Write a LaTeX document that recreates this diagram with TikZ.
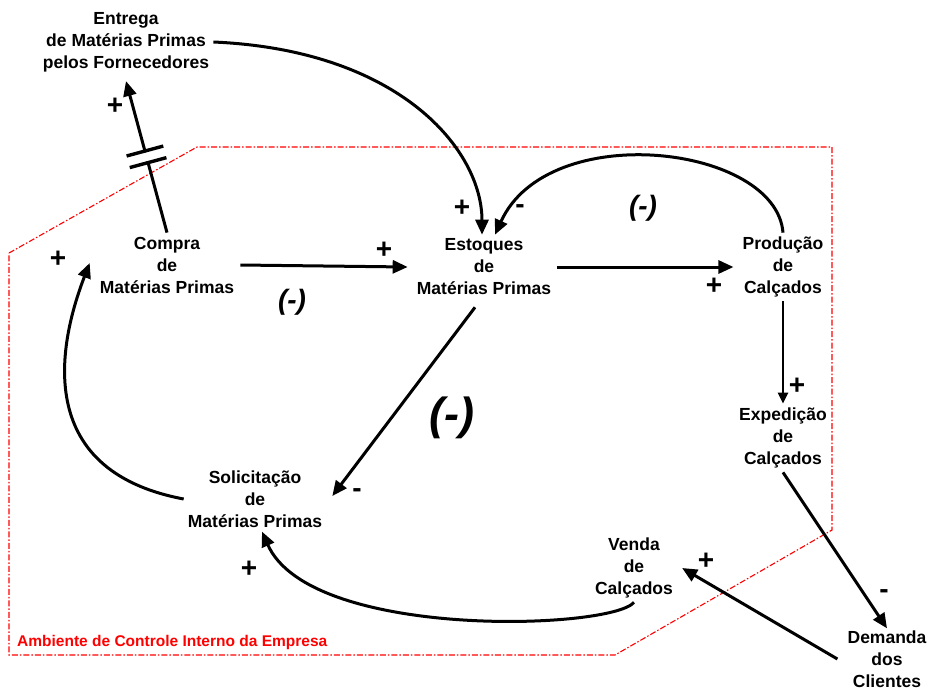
\documentclass[tikz,border=0pt]{standalone}
\usepackage{fontspec}
\setmainfont{Liberation Sans}
\usetikzlibrary{arrows.meta}
\begin{document}
\begin{tikzpicture}[x=1pt,y=-1pt,
  var/.style={font=\bfseries\fontsize{17.5}{22}\selectfont, align=center, inner sep=4pt},
  link/.style={line width=3pt, -{Triangle[length=15pt,width=13pt]}},
  thinlink/.style={line width=2.6pt, -{Triangle[length=11pt,width=10pt]}},
  polarity/.style={font=\bfseries\fontsize{28}{28}\selectfont, inner sep=0pt},
  loopname/.style={font=\bfseries\itshape\fontsize{28}{28}\selectfont, inner sep=0pt},
  bigloopname/.style={font=\bfseries\itshape\fontsize{45}{45}\selectfont, inner sep=0pt},
  boundary/.style={draw=red, line width=1.1pt, dash pattern=on 6pt off 2pt on 1.5pt off 2pt},
  delaymark/.style={sloped, fill=white, inner sep=0pt, minimum width=9pt, minimum height=35pt},
  delaybar/.style={line width=3.4pt}
]
\useasboundingbox (0,0) rectangle (928,691);

% boundary of the company's internal control
\draw[boundary] (9,253) -- (197,147) -- (832,147) -- (832,530) -- (615,655) -- (9,655) -- cycle;
\node[anchor=base west, text=red, font=\bfseries\fontsize{15.5}{18}\selectfont, inner sep=0pt]
  (amb) at (17,646) {Ambiente de Controle Interno da Empresa};

% variables
\node[var] (entrega)   at (126,42)  {Entrega\\de Matérias Primas\\pelos Fornecedores};
\node[var] (compra)    at (167,265) {Compra\\de\\Matérias Primas};
\node[var] (estoques)  at (484,267) {Estoques\\de\\Matérias Primas};
\node[var] (producao)  at (783,267) {Produção\\de\\Calçados};
\node[var] (expedicao) at (783,438) {Expedição\\de\\Calçados};
\node[var] (solic)     at (255,499) {Solicitação\\de\\Matérias Primas};
\node[var] (venda)     at (634,568) {Venda\\de\\Calçados};
\node[var] (demanda)   at (887,659) {Demanda\\dos\\Clientes};

% causal links
\draw[link] (compra.north) -- ([shift={(0,5)}]entrega.south)
  node[pos=0.5, delaymark] (delay) {};
\draw[delaybar] (delay.north west) -- (delay.south west)
                (delay.north east) -- (delay.south east);

\draw[link] (entrega.east) .. controls (400,50) and (482,150) .. ([xshift=-2pt]estoques.north);
\draw[link] (producao.north) .. controls (776,145) and (548,118) .. ([xshift=11pt]estoques.north);
\draw[link] ([xshift=2pt]compra.east) -- ([xshift=-5pt]estoques.west);
\draw[link] ([xshift=2pt]estoques.east) -- ([xshift=-5pt]producao.west);
\draw[link] ([shift={(-9,8)}]estoques.south) -- ([shift={(6,-3)}]solic.east);
\draw[link] (solic.west) .. controls (30,470) and (60,340) .. ([shift={(-6,-2)}]compra.west);
\draw[link] (venda.south) .. controls (610,630) and (310,640) .. ([xshift=7pt]solic.south);
\draw[thinlink] (producao.south) -- (expedicao.north);
\draw[link] (expedicao.south) -- ([yshift=-2pt]demanda.north);
\draw[link] ([xshift=-6pt]demanda.west) -- ([xshift=5pt]venda.east);

% polarities
\node[polarity] (p1)  at (115,106) {+};
\node[polarity] (p2)  at (462,208) {+};
\node[polarity] (p3)  at (520,209) {-};
\node[polarity] (p4)  at (384,250) {+};
\node[polarity] (p5)  at (714,286) {+};
\node[polarity] (p6)  at (58,259)  {+};
\node[polarity] (p7)  at (357,493) {-};
\node[polarity] (p8)  at (797,386) {+};
\node[polarity] (p9)  at (884,594) {-};
\node[polarity] (p10) at (706,561) {+};
\node[polarity] (p11) at (249,569) {+};

% loop signs
\node[loopname] (l1) at (292,302) {(-)};
\node[loopname] (l2) at (643,208) {(-)};
\node[bigloopname] (l3) at (452,418) {(-)};
\end{tikzpicture}
\end{document}
